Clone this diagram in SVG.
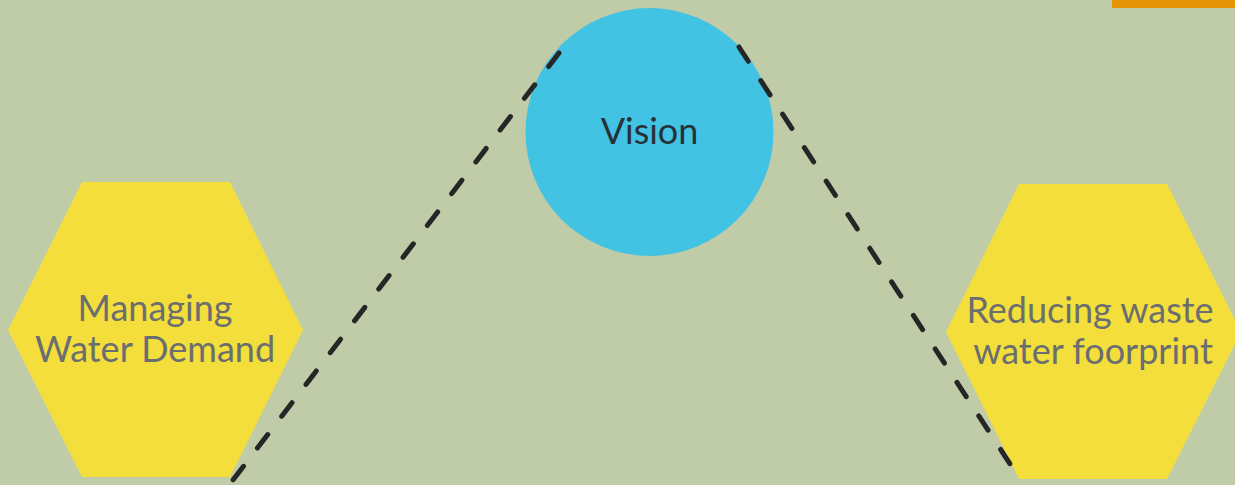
<svg xmlns="http://www.w3.org/2000/svg" width="1235" height="485" viewBox="0 0 1235 485">
<style>
.hex{fill:#f3de3b}
.lbl{font-family:Lato,"Liberation Sans",sans-serif;font-size:36px;fill:#6b6e70;text-anchor:middle}
.vis{font-family:Lato,"Liberation Sans",sans-serif;font-size:36px;fill:#263238;text-anchor:middle}
.dash{fill:none;stroke:#262626;stroke-width:5;stroke-dasharray:17 23;stroke-linecap:round}
</style>
<rect x="0" y="0" width="1235" height="485" fill="#c0cca8"/>
<rect x="1112" y="0" width="123" height="8" fill="#e69408"/>
<g id="node-managing">
<polygon class="hex" points="82,182 230,182 303,330 230,477 82,477 8,330"/>
<text class="lbl" x="155" y="321">Managing</text>
<text class="lbl" x="155" y="362">Water Demand</text>
</g>
<g id="node-reducing">
<polygon class="hex" points="1019,184 1167,184 1241,332 1167,479 1019,479 946,332"/>
<text class="lbl" x="1090" y="323">Reducing waste</text>
<text class="lbl" x="1093" y="364">water foorprint</text>
</g>
<g id="node-vision">
<circle cx="649.5" cy="132" r="124" fill="#42c3e4"/>
<text class="vis" x="649.5" y="144">Vision</text>
</g>
<g id="connectors">
<line class="dash" x1="559" y1="53" x2="230" y2="484"/>
<line class="dash" x1="739" y1="47" x2="1010" y2="464"/>
</g>
</svg>
